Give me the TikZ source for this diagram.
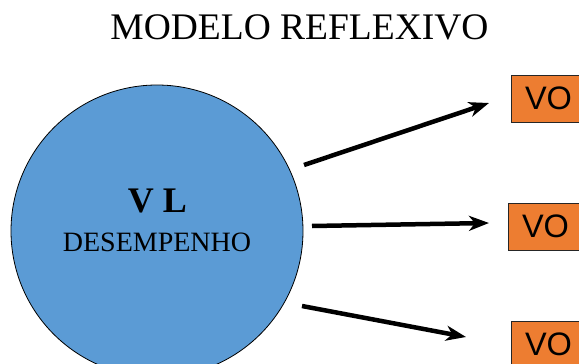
\documentclass[tikz,border=0pt]{standalone}
\usepackage{fontspec}
\setmainfont{Liberation Serif}
\newfontfamily\arialfont{Liberation Sans}
\usepackage{tikz}
\usetikzlibrary{shapes, arrows.meta, positioning}
\definecolor{vlblue}{HTML}{5B9BD5}
\definecolor{voorange}{HTML}{ED7D31}

\tikzset{
  vlcircle/.style={circle, draw=black, line width=0.8pt, fill=vlblue, minimum size=292pt, inner sep=0pt, align=center},
  vobox/.style={draw=black!85, line width=0.8pt, fill=voorange, minimum width=75pt, minimum height=47pt, inner sep=0pt, font=\arialfont\fontsize{32.5}{32}\selectfont},
  voarrow/.style={line width=4.5pt, -{Stealth[length=20pt,width=15pt,inset=6pt]}}
}

\begin{document}
\begin{tikzpicture}[x=1pt,y=-1pt]
\useasboundingbox (0,0) rectangle (579,364);
\clip (0,0) rectangle (579,364);
%title
\node (title) at (299.5,27) {\fontsize{37.5}{40}\selectfont MODELO REFLEXIVO};
%circle
\node [vlcircle] (vl) at (157,231) {};
\node (vltxt) at (157.5,201) {\fontsize{36}{40}\selectfont\bfseries V L};
\node (desem) at (157,242) {\fontsize{28}{30}\selectfont DESEMPENHO};
%boxes
\node [vobox] (vo1) at (548.5,98.5) {VO};
\node [vobox] (vo2) at (545.5,226.5) {VO};
\node [vobox] (vo3) at (548.5,344.5) {VO};
%arrows
\coordinate (a1s) at (304,165);
\coordinate (a1e) at (489,103);
\coordinate (a2s) at (312,226);
\coordinate (a2e) at (489,223);
\coordinate (a3s) at (302,306);
\coordinate (a3e) at (466,337);
\draw [voarrow] (a1s) -- (a1e);
\draw [voarrow] (a2s) -- (a2e);
\draw [voarrow] (a3s) -- (a3e);
\end{tikzpicture}
\end{document}
